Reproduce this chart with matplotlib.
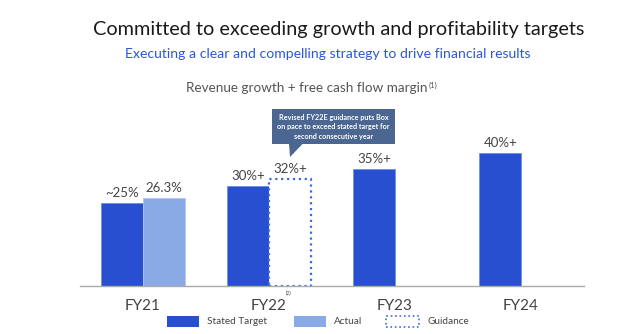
import matplotlib
matplotlib.use("Agg")
import matplotlib.pyplot as plt
from matplotlib.patches import Rectangle, Polygon

plt.rcParams['font.family'] = ['Lato', 'DejaVu Sans']

categories = ["FY21", "FY22", "FY23", "FY24"]
stated_target = [25, 30, 35, 40]
target_labels = ["~25%", "30%+", "35%+", "40%+"]
actual = [26.3, None, None, None]
actual_labels = ["26.3%", None, None, None]
guidance = [None, 32, None, None]
guidance_labels = [None, "32%+", None, None]

C_TARGET = "#284fcf"
C_ACTUAL = "#8aaae6"
C_GUIDE = "#3d6be0"
C_TEXT = "#444444"

W, H = 640, 334
fig = plt.figure(figsize=(6.4, 3.34), dpi=100)

def fx(px):
    return px / W

def fy(py):
    return 1 - py / H

ax = fig.add_axes([fx(80), fy(286), fx(584) - fx(80), (286 - 119.5) / H])
bw = 0.33
xs = list(range(len(categories)))
LFS = 9.5

ax.bar([x - bw / 2 for x in xs], stated_target, width=bw, color=C_TARGET, edgecolor="#6f8fe6", linewidth=0.6)
for x, v, lab in zip(xs, stated_target, target_labels):
    ax.text(x - bw / 2, v + 1.2, lab, ha="center", va="bottom", fontsize=LFS, color=C_TEXT)

for x, v, lab in zip(xs, actual, actual_labels):
    if v is not None:
        ax.bar(x + bw / 2, v, width=bw, color=C_ACTUAL, edgecolor="#b5c8f0", linewidth=0.6)
        ax.text(x + bw / 2, v + 1.2, lab, ha="center", va="bottom", fontsize=LFS, color=C_TEXT)

for x, v, lab in zip(xs, guidance, guidance_labels):
    if v is not None:
        ax.bar(x + bw / 2, v, width=bw, facecolor="white", edgecolor=C_GUIDE, linewidth=1.6, linestyle=":")
        ax.text(x + bw / 2, v + 1.2, lab, ha="center", va="bottom", fontsize=LFS, color=C_TEXT)

ax.set_xlim(-0.5, 3.5)
ax.set_ylim(0, 50)
for s in ["top", "right", "left"]:
    ax.spines[s].set_visible(False)
ax.spines["bottom"].set_color("#aaaaaa")
ax.spines["bottom"].set_linewidth(1.0)
ax.set_yticks([])
ax.set_xticks(xs)
ax.set_xticklabels(categories, fontsize=11, color=C_TEXT)
ax.tick_params(axis="x", length=0, pad=9)

# footnote marker on FY22
fig.text(fx(289), fy(293), "(2)", fontsize=3.5, color=C_TEXT, ha="center", va="center")

# Titles
fig.text(fx(339), fy(30), "Committed to exceeding growth and profitability targets",
         fontsize=14.3, color="#1a1a1a", ha="center", va="center")
fig.text(fx(327.5), fy(54), "Executing a clear and compelling strategy to drive financial results",
         fontsize=10.1, color="#2d55dd", ha="center", va="center")
fig.text(fx(306.5), fy(88), "Revenue growth + free cash flow margin", fontsize=9.7,
         color="#555555", ha="center", va="center")
fig.text(fx(429), fy(85.5), "(1)", fontsize=5.5, color="#555555", ha="left", va="center")

# Callout
box = Rectangle((fx(272), fy(144)), fx(395) - fx(272), fy(109) - fy(144),
                transform=fig.transFigure, facecolor="#4b6690", edgecolor="none")
fig.patches.append(box)
tri = Polygon([(fx(289), fy(143.5)), (fx(303), fy(143.5)), (fx(290), fy(157))],
              closed=True, transform=fig.transFigure, facecolor="#4b6690", edgecolor="none")
fig.patches.append(tri)
fig.text(fx(333.5), fy(127),
         "Revised FY22E guidance puts Box\non pace to exceed stated target for\nsecond consecutive year",
         fontsize=5.2, color="white", fontweight="bold", ha="center", va="center", linespacing=1.35)

# Legend
legend_items = [
    ("Stated Target", 167, 199, dict(facecolor=C_TARGET, edgecolor="none")),
    ("Actual", 294, 326, dict(facecolor=C_ACTUAL, edgecolor="none")),
    ("Guidance", 386, 419, dict(facecolor="white", edgecolor=C_GUIDE, linestyle=":", linewidth=1.2)),
]
for label, x0, x1, style in legend_items:
    r = Rectangle((fx(x0), fy(327)), fx(x1) - fx(x0), fy(316) - fy(327),
                  transform=fig.transFigure, **style)
    fig.patches.append(r)
    fig.text(fx(x1 + 8), fy(322), label, fontsize=7.2, color=C_TEXT, ha="left", va="center")

fig.savefig("out.png", dpi=100)
